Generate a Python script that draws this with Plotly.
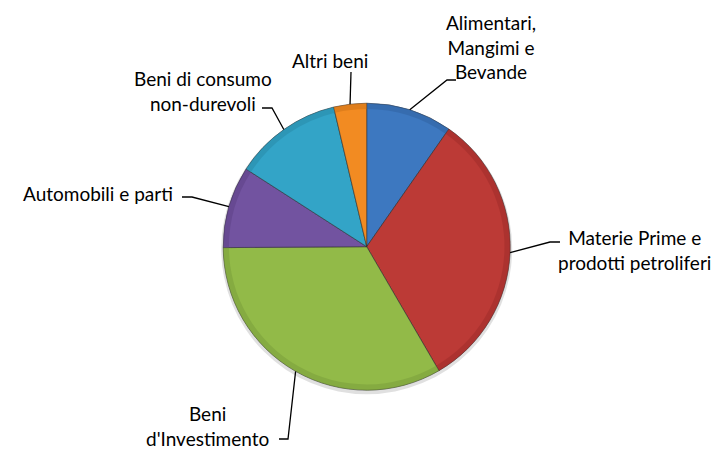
import math
import plotly.graph_objects as go

W, H = 717, 449

# Data (percent shares)
categories = [
    "Alimentari,<br>Mangimi e<br>Bevande",
    "Materie Prime e<br>prodotti petroliferi",
    "Beni<br>d'Investimento",
    "Automobili e parti",
    "Beni di consumo<br>non-durevoli",
    "Altri beni",
]
values = [9.7, 31.9, 33.3, 9.2, 12.2, 3.7]
colors = ["#3D78C0", "#BC3A36", "#92BA48", "#7253A0", "#33A4C7", "#F28B22"]
rim_colors = ["#2F5F9C", "#9A2A28", "#76993A", "#5A3F82", "#2786A3", "#C96F15"]

# Layout: pie centre / radius in pixels
CX, CY, R = 366.7, 246.7, 143.5

# label placement (pixels): label centre, elbow point, end of horizontal tick
label_pos = [(491, 47), (634, 250), (208, 426), (98, 193), (203, 91), (330, 60)]
elbow = [(447, 80), (550, 242), (288, 439), (192, 197), (272, 108), (351, 72)]
tick_end = [(456, 80), (560, 242), (279, 439), (182, 197), (262, 108), (351, 72)]


def px(x, y):
    return x / W, 1 - y / H


dom = dict(x=[(CX - R) / W, (CX + R) / W], y=[1 - (CY + R) / H, 1 - (CY - R) / H])

fig = go.Figure()
fig.add_trace(go.Pie(
    labels=[c.replace("<br>", " ") for c in categories],
    values=values, sort=False, direction="clockwise", rotation=0,
    textinfo="none", hoverinfo="label+percent",
    marker=dict(colors=colors, line=dict(color="rgba(40,40,40,0.55)", width=1)),
    domain=dom, showlegend=False,
))
# subtle darker rim (bevel look)
fig.add_trace(go.Pie(
    labels=[c.replace("<br>", " ") for c in categories],
    values=values, sort=False, direction="clockwise", rotation=0,
    textinfo="none", hoverinfo="skip", hole=0.96, opacity=0.45,
    marker=dict(colors=rim_colors, line=dict(width=0)),
    domain=dom, showlegend=False,
))

total = sum(values)
cum = 0.0
shapes = [dict(type="circle", xref="paper", yref="paper", layer="below",
               x0=(CX - R - 2) / W, x1=(CX + R + 2) / W,
               y0=1 - (CY + R + 4) / H, y1=1 - (CY - R) / H,
               fillcolor="rgba(0,0,0,0.12)", line=dict(width=0))]
annotations = []
for i, v in enumerate(values):
    mid = (cum + v / 2) / total * 2 * math.pi
    cum += v
    ex = CX + R * math.sin(mid)
    ey = CY - R * math.cos(mid)
    pts = [(ex, ey), elbow[i], tick_end[i]]
    path = "M " + " L ".join(f"{px(a, b)[0]:.5f},{px(a, b)[1]:.5f}" for a, b in pts)
    shapes.append(dict(type="path", xref="paper", yref="paper", path=path,
                       line=dict(color="black", width=1.3)))
    lx, ly = px(*label_pos[i])
    annotations.append(dict(x=lx, y=ly, xref="paper", yref="paper", text=categories[i],
                            showarrow=False, xanchor="center", yanchor="middle",
                            align="center",
                            font=dict(family="Lato", size=19, color="black")))

fig.update_layout(
    width=W, height=H,
    margin=dict(l=0, r=0, t=0, b=0),
    paper_bgcolor="white", plot_bgcolor="white",
    shapes=shapes, annotations=annotations,
)
fig.write_html("out.html")
